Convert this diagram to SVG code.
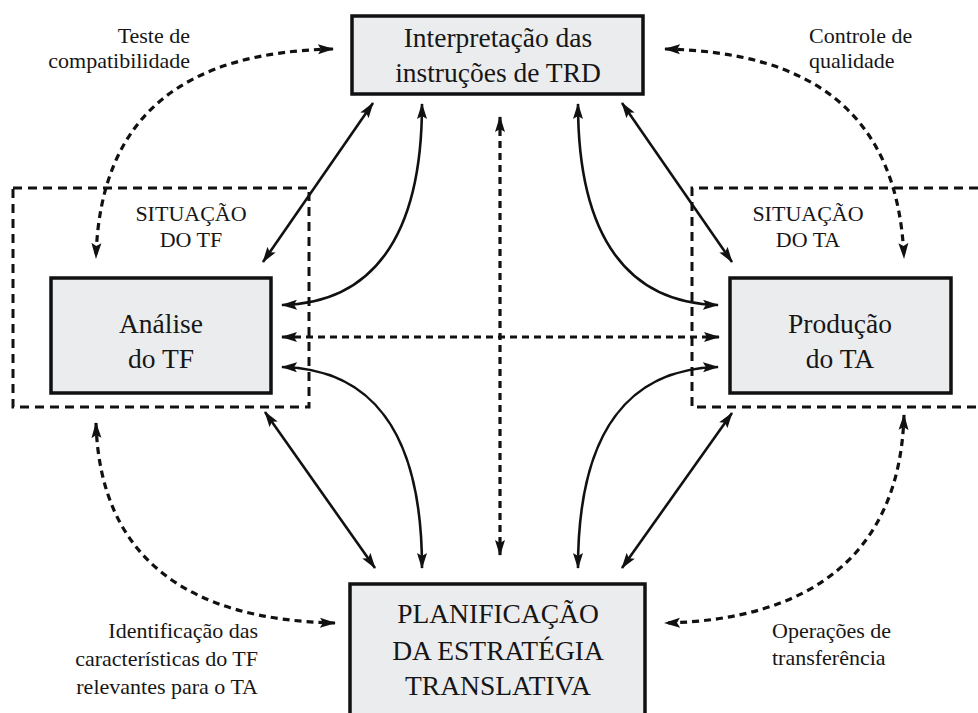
<svg xmlns="http://www.w3.org/2000/svg" width="978" height="713" viewBox="0 0 978 713">
<defs>
<marker id="ah" viewBox="0 0 16 11" refX="15" refY="5.5" markerWidth="16" markerHeight="11" markerUnits="userSpaceOnUse" orient="auto-start-reverse">
<path d="M0,0.5 L16,5.5 L0,10.5 L3,5.5 Z" fill="#111"/>
</marker>
<style>
.box{fill:#ebecee;stroke:#111;stroke-width:3.5}
.zone{fill:none;stroke:#111;stroke-width:3;stroke-dasharray:9 6}
.solid{fill:none;stroke:#111;stroke-width:2.6}
.dash{fill:none;stroke:#111;stroke-width:3.2;stroke-dasharray:7 5}
.bt{font-size:27.5px;text-anchor:middle;fill:#161616}
.zt{font-size:22px;text-anchor:middle;fill:#161616}
.lb{font-size:22px;fill:#161616}
</style>
</defs>
<rect width="978" height="713" fill="#ffffff"/>

<g id="zone-tf" font-family="Liberation Serif, serif">
<rect class="zone" x="13" y="188" width="296" height="219"/>
<text class="zt" x="191" y="221">SITUAÇÃO</text>
<text class="zt" x="191" y="247">DO TF</text>
</g>
<g id="zone-ta" font-family="Liberation Serif, serif">
<path class="zone" d="M978,188 H692 V407 H978"/>
<text class="zt" x="808" y="221">SITUAÇÃO</text>
<text class="zt" x="808" y="247">DO TA</text>
</g>

<g id="connectors">
<path class="dash" d="M333,49 C190,52 100,110 96,258" marker-start="url(#ah)" marker-end="url(#ah)"/>
<path class="dash" d="M665,49 C808,52 898,110 904,258" marker-start="url(#ah)" marker-end="url(#ah)"/>
<path class="dash" d="M96,423 C100,560 190,620 335,623" marker-start="url(#ah)" marker-end="url(#ah)"/>
<path class="dash" d="M904,415 C900,555 810,620 665,623" marker-start="url(#ah)" marker-end="url(#ah)"/>
<path class="dash" d="M500,117 L500,555" marker-start="url(#ah)" marker-end="url(#ah)"/>
<path class="dash" d="M282,337 L719,337" marker-start="url(#ah)" marker-end="url(#ah)"/>
<path class="solid" d="M373,103 L263,262" marker-start="url(#ah)" marker-end="url(#ah)"/>
<path class="solid" d="M622,103 L732,262" marker-start="url(#ah)" marker-end="url(#ah)"/>
<path class="solid" d="M265,412 L375,568" marker-start="url(#ah)" marker-end="url(#ah)"/>
<path class="solid" d="M732,413 L622,568" marker-start="url(#ah)" marker-end="url(#ah)"/>
<path class="solid" d="M422,104 C422,240 370,303 282,305" marker-start="url(#ah)" marker-end="url(#ah)"/>
<path class="solid" d="M578,104 C578,240 630,303 718,305" marker-start="url(#ah)" marker-end="url(#ah)"/>
<path class="solid" d="M282,367 C370,369 422,430 422,568" marker-start="url(#ah)" marker-end="url(#ah)"/>
<path class="solid" d="M718,367 C630,369 578,430 578,568" marker-start="url(#ah)" marker-end="url(#ah)"/>
</g>

<g id="node-trd" font-family="Liberation Serif, serif">
<rect class="box" x="352" y="16" width="291" height="78"/>
<text class="bt" x="498" y="47">Interpretação das</text>
<text class="bt" x="498" y="82">instruções de TRD</text>
</g>
<g id="node-tf" font-family="Liberation Serif, serif">
<rect class="box" x="51" y="278" width="220" height="115"/>
<text class="bt" x="161" y="333">Análise</text>
<text class="bt" x="161" y="368">do TF</text>
</g>
<g id="node-ta" font-family="Liberation Serif, serif">
<rect class="box" x="730" y="278" width="221" height="115"/>
<text class="bt" x="840" y="333">Produção</text>
<text class="bt" x="840" y="368">do TA</text>
</g>
<g id="node-plan" font-family="Liberation Serif, serif">
<rect class="box" x="350" y="584" width="295" height="160"/>
<text class="bt" x="498" y="623">PLANIFICAÇÃO</text>
<text class="bt" x="498" y="660">DA ESTRATÉGIA</text>
<text class="bt" x="498" y="695">TRANSLATIVA</text>
</g>

<g id="labels" font-family="Liberation Serif, serif">
<text class="lb" text-anchor="end" x="190" y="43">Teste de</text>
<text class="lb" text-anchor="end" x="190" y="68">compatibilidade</text>
<text class="lb" x="809" y="43">Controle de</text>
<text class="lb" x="809" y="68">qualidade</text>
<text class="lb" text-anchor="end" x="258" y="638">Identificação das</text>
<text class="lb" text-anchor="end" x="258" y="666">características do TF</text>
<text class="lb" text-anchor="end" x="258" y="694">relevantes para o TA</text>
<text class="lb" x="772" y="638">Operações de</text>
<text class="lb" x="772" y="665">transferência</text>
</g>
</svg>
